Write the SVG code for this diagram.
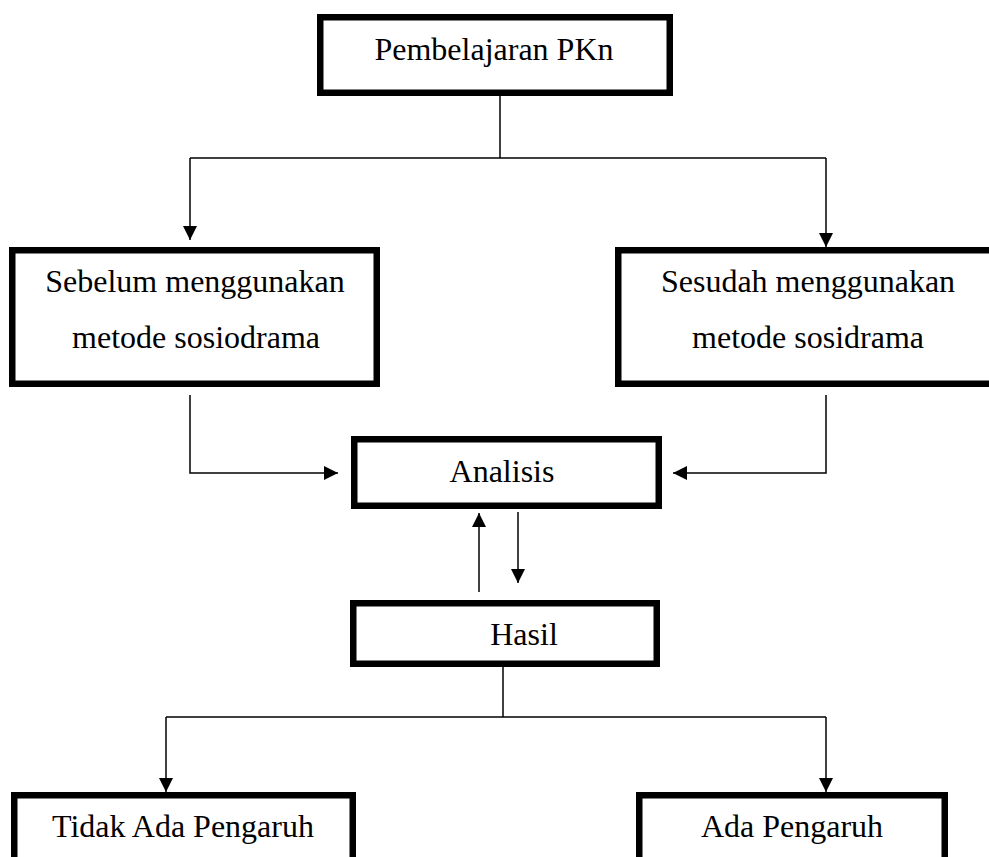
<svg xmlns="http://www.w3.org/2000/svg" width="989" height="857" viewBox="0 0 989 857">
  <style>
    .box { fill: #ffffff; stroke: #000000; stroke-width: 6.5; }
    .lbl { font-family: "Liberation Serif", "Times New Roman", serif; font-size: 32px; fill: #000000; text-anchor: middle; }
    .conn { fill: none; stroke: #000000; stroke-width: 1.5; }
    .arr { marker-end: url(#ah); }
  </style>
  <defs>
    <marker id="ah" viewBox="0 0 14 14" refX="14" refY="7" markerWidth="14" markerHeight="14" markerUnits="userSpaceOnUse" orient="auto">
      <path d="M0,0 L14,7 L0,14 Z" fill="#000000"/>
    </marker>
  </defs>
  <rect x="0" y="0" width="989" height="857" fill="#ffffff"/>

  <g id="connectors">
    <path class="conn" d="M500,96 V158"/>
    <path class="conn" d="M190,158 H826"/>
    <path class="conn arr" d="M190,158 V240"/>
    <path class="conn arr" d="M826,158 V247"/>
    <path class="conn arr" d="M190,395 V473 H338"/>
    <path class="conn arr" d="M826,395 V473 H673"/>
    <path class="conn arr" d="M479,592 V513"/>
    <path class="conn arr" d="M518,512 V583"/>
    <path class="conn" d="M503,667 V717"/>
    <path class="conn" d="M166,717 H826"/>
    <path class="conn arr" d="M166,717 V792"/>
    <path class="conn arr" d="M826,717 V792"/>
  </g>

  <g id="node-pembelajaran">
    <rect class="box" x="320.25" y="17.25" width="349.5" height="75.5"/>
    <text class="lbl" x="494" y="60">Pembelajaran PKn</text>
  </g>

  <g id="node-sebelum">
    <rect class="box" x="12.25" y="250.25" width="364.5" height="133.5"/>
    <text class="lbl" x="195" y="292">Sebelum menggunakan</text>
    <text class="lbl" x="196" y="348">metode sosiodrama</text>
  </g>

  <g id="node-sesudah">
    <rect class="box" x="618.25" y="250.25" width="385" height="133.5"/>
    <text class="lbl" x="808" y="292">Sesudah menggunakan</text>
    <text class="lbl" x="808" y="348">metode sosidrama</text>
  </g>

  <g id="node-analisis">
    <rect class="box" x="354.25" y="439.25" width="304.5" height="66.5"/>
    <text class="lbl" x="502" y="482">Analisis</text>
  </g>

  <g id="node-hasil">
    <rect class="box" x="353.25" y="603.25" width="303.5" height="60.5"/>
    <text class="lbl" x="524" y="645">Hasil</text>
  </g>

  <g id="node-tidak-ada-pengaruh">
    <rect class="box" x="14.25" y="795.25" width="338.5" height="100"/>
    <text class="lbl" x="183" y="837">Tidak Ada Pengaruh</text>
  </g>

  <g id="node-ada-pengaruh">
    <rect class="box" x="639.25" y="795.25" width="305.5" height="100"/>
    <text class="lbl" x="792" y="837">Ada Pengaruh</text>
  </g>
</svg>
